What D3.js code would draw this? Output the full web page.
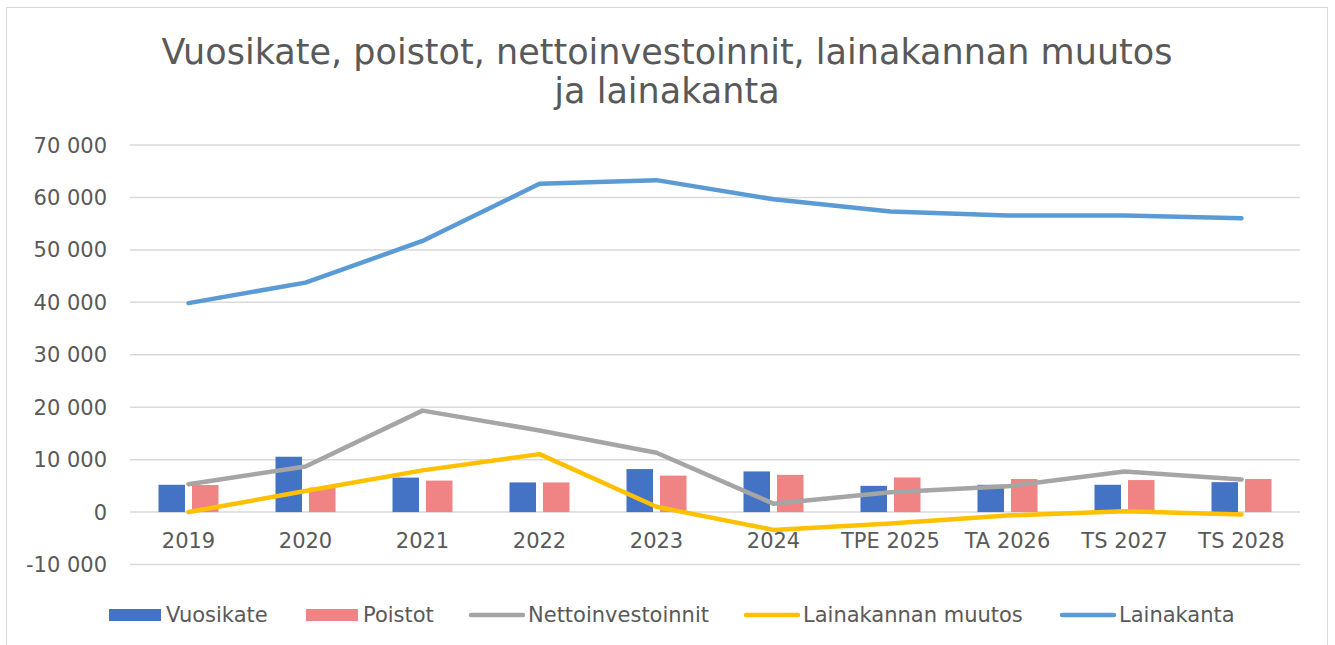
<!DOCTYPE html>
<html>
<head>
<meta charset="utf-8">
<script src="https://cdn.jsdelivr.net/npm/d3@7"></script>
<style>
  body { margin: 0; background: #fff; }
  svg { display: block; font-family: "DejaVu Sans", Verdana, sans-serif; }
</style>
</head>
<body>
<svg id="chart" width="1335" height="645"></svg>
<script>
var categories = ["2019", "2020", "2021", "2022", "2023", "2024", "TPE 2025", "TA 2026", "TS 2027", "TS 2028"];
var vuosikate = [5200, 10550, 6570, 5650, 8200, 7750, 5000, 5200, 5200, 5700];
var poistot = [5150, 4670, 6000, 5650, 6950, 7100, 6600, 6300, 6100, 6300];
var nettoinvestoinnit = [5300, 8700, 19350, 15550, 11300, 1600, 3800, 4900, 7750, 6200];
var lainakannanMuutos = [0, 4000, 7950, 11050, 1000, -3400, -2200, -650, 150, -450];
var lainakanta = [39850, 43750, 51700, 62600, 63300, 59650, 57300, 56550, 56550, 56050];
var yTicks = [-10000, 0, 10000, 20000, 30000, 40000, 50000, 60000, 70000];

var svg = d3.select("#chart"),
    width = +svg.attr("width"),
    height = +svg.attr("height");

var plotLeft = 130, plotRight = 1300, plotTop = 145, plotBottom = 564.5;

// chart border
svg.append("rect")
  .attr("x", 6.5).attr("y", 7.5)
  .attr("width", 1321).attr("height", 650)
  .attr("fill", "none")
  .attr("stroke", "#d9d9d9")
  .attr("stroke-width", 1);

// title
var title = svg.append("text")
  .attr("text-anchor", "middle")
  .attr("fill", "#595959")
  .attr("font-size", 35);
title.append("tspan").attr("x", 667).attr("y", 64).text("Vuosikate, poistot, nettoinvestoinnit, lainakannan muutos");
title.append("tspan").attr("x", 667).attr("y", 103).text("ja lainakanta");

var x = d3.scaleBand().domain(categories).range([plotLeft, plotRight]).padding(0);
var y = d3.scaleLinear().domain([-10000, 70000]).range([plotBottom, plotTop]);

var groupW = 60;
var x1 = d3.scaleBand().domain(["Vuosikate", "Poistot"])
  .range([0, groupW]).paddingInner(0.21);

// grid lines
svg.append("g")
  .selectAll("line")
  .data(yTicks)
  .enter().append("line")
  .attr("x1", plotLeft).attr("x2", plotRight)
  .attr("y1", function(d) { return y(d); })
  .attr("y2", function(d) { return y(d); })
  .attr("stroke", "#d9d9d9")
  .attr("stroke-width", 1.5);

// y axis labels
var fmt = function(d) { return d3.format(",")(d).replace(/,/g, " ").replace("\u2212", "-"); };
svg.append("g")
  .selectAll("text")
  .data(yTicks)
  .enter().append("text")
  .attr("x", 107)
  .attr("y", function(d) { return y(d); })
  .attr("dy", "0.36em")
  .attr("text-anchor", "end")
  .attr("fill", "#595959")
  .attr("font-size", 21)
  .text(fmt);

// x labels
svg.append("g")
  .selectAll("text")
  .data(categories)
  .enter().append("text")
  .attr("x", function(d) { return x(d) + x.bandwidth() / 2; })
  .attr("y", 548)
  .attr("text-anchor", "middle")
  .attr("fill", "#595959")
  .attr("font-size", 21)
  .text(function(d) { return d; });

// bars
var barSeries = [
  { name: "Vuosikate", values: vuosikate, color: "#4472C4" },
  { name: "Poistot", values: poistot, color: "#F08383" }
];
var off = (x.bandwidth() - groupW) / 2;
barSeries.forEach(function(s) {
  svg.append("g")
    .selectAll("rect")
    .data(s.values)
    .enter().append("rect")
    .attr("x", function(d, i) { return x(categories[i]) + off + x1(s.name); })
    .attr("width", x1.bandwidth())
    .attr("y", function(d) { return y(Math.max(0, d)); })
    .attr("height", function(d) { return Math.abs(y(d) - y(0)); })
    .attr("fill", s.color);
});

// lines
var lineSeries = [
  { name: "Nettoinvestoinnit", values: nettoinvestoinnit, color: "#A5A5A5" },
  { name: "Lainakannan muutos", values: lainakannanMuutos, color: "#FFC000" },
  { name: "Lainakanta", values: lainakanta, color: "#5B9BD5" }
];
var line = d3.line()
  .x(function(d, i) { return x(categories[i]) + x.bandwidth() / 2; })
  .y(function(d) { return y(d); });
lineSeries.forEach(function(s) {
  svg.append("path")
    .datum(s.values)
    .attr("d", line)
    .attr("fill", "none")
    .attr("stroke", s.color)
    .attr("stroke-width", 4.5)
    .attr("stroke-linejoin", "round")
    .attr("stroke-linecap", "round");
});

// legend
var legend = [
  { name: "Vuosikate", color: "#4472C4", type: "bar", x: 109 },
  { name: "Poistot", color: "#F08383", type: "bar", x: 306 },
  { name: "Nettoinvestoinnit", color: "#A5A5A5", type: "line", x: 471 },
  { name: "Lainakannan muutos", color: "#FFC000", type: "line", x: 746 },
  { name: "Lainakanta", color: "#5B9BD5", type: "line", x: 1062 }
];
var lg = svg.append("g").selectAll("g").data(legend).enter().append("g");
lg.filter(function(d) { return d.type === "bar"; })
  .append("rect")
  .attr("x", function(d) { return d.x; })
  .attr("y", 609)
  .attr("width", 52).attr("height", 12)
  .attr("fill", function(d) { return d.color; });
lg.filter(function(d) { return d.type === "line"; })
  .append("line")
  .attr("x1", function(d) { return d.x; })
  .attr("x2", function(d) { return d.x + 52; })
  .attr("y1", 615).attr("y2", 615)
  .attr("stroke", function(d) { return d.color; })
  .attr("stroke-width", 4.5)
  .attr("stroke-linecap", "round");
lg.append("text")
  .attr("x", function(d) { return d.type === "bar" ? d.x + 57 : d.x + 57; })
  .attr("y", 621.5)
  .attr("fill", "#595959")
  .attr("font-size", 21)
  .text(function(d) { return d.name; });
</script>
</body>
</html>
